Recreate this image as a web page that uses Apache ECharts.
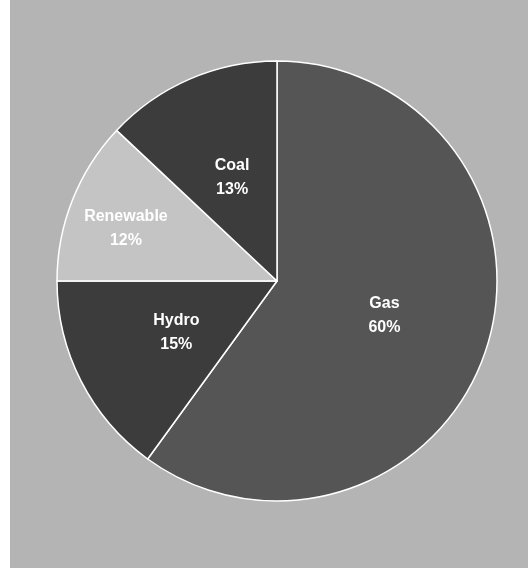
<!DOCTYPE html>
<html>
<head>
<meta charset="utf-8">
<script src="https://cdn.jsdelivr.net/npm/echarts@6/dist/echarts.min.js"></script>
<style>html,body{margin:0;padding:0;background:#fff;}#c{width:528px;height:568px;}</style>
</head>
<body>
<div id="c"></div>
<script>
const categories = ['Gas', 'Hydro', 'Renewable', 'Coal'];
const values = [60, 15, 12, 13];
const colors = ['#555555', '#3c3c3c', '#c4c4c4', '#3c3c3c'];

const chart = echarts.init(document.getElementById('c'));
chart.setOption({
  animation: false,
  backgroundColor: '#ffffff',
  graphic: [{
    type: 'rect', z: -10,
    shape: { x: 10, y: 0, width: 518, height: 568 },
    style: { fill: '#b4b4b4' }
  }],
  series: [{
    type: 'pie',
    center: [277, 281],
    radius: [0, 220],
    startAngle: 90,
    clockwise: true,
    avoidLabelOverlap: false,
    itemStyle: { borderColor: '#ffffff', borderWidth: 1.5 },
    label: {
      show: true,
      position: 'inside',
      color: '#ffffff',
      fontFamily: 'Liberation Sans, Arial, sans-serif',
      fontWeight: 'bold',
      fontSize: 16,
      lineHeight: 24,
      formatter: p => p.name + '\n' + p.value + '%'
    },
    labelLine: { show: false },
    emphasis: { disabled: true },
    data: categories.map((n, i) => ({
      name: n,
      value: values[i],
      itemStyle: { color: colors[i] },
      label: n === 'Renewable' ? { offset: [-46, -11] } : {}
    }))
  }]
});
</script>
</body>
</html>
